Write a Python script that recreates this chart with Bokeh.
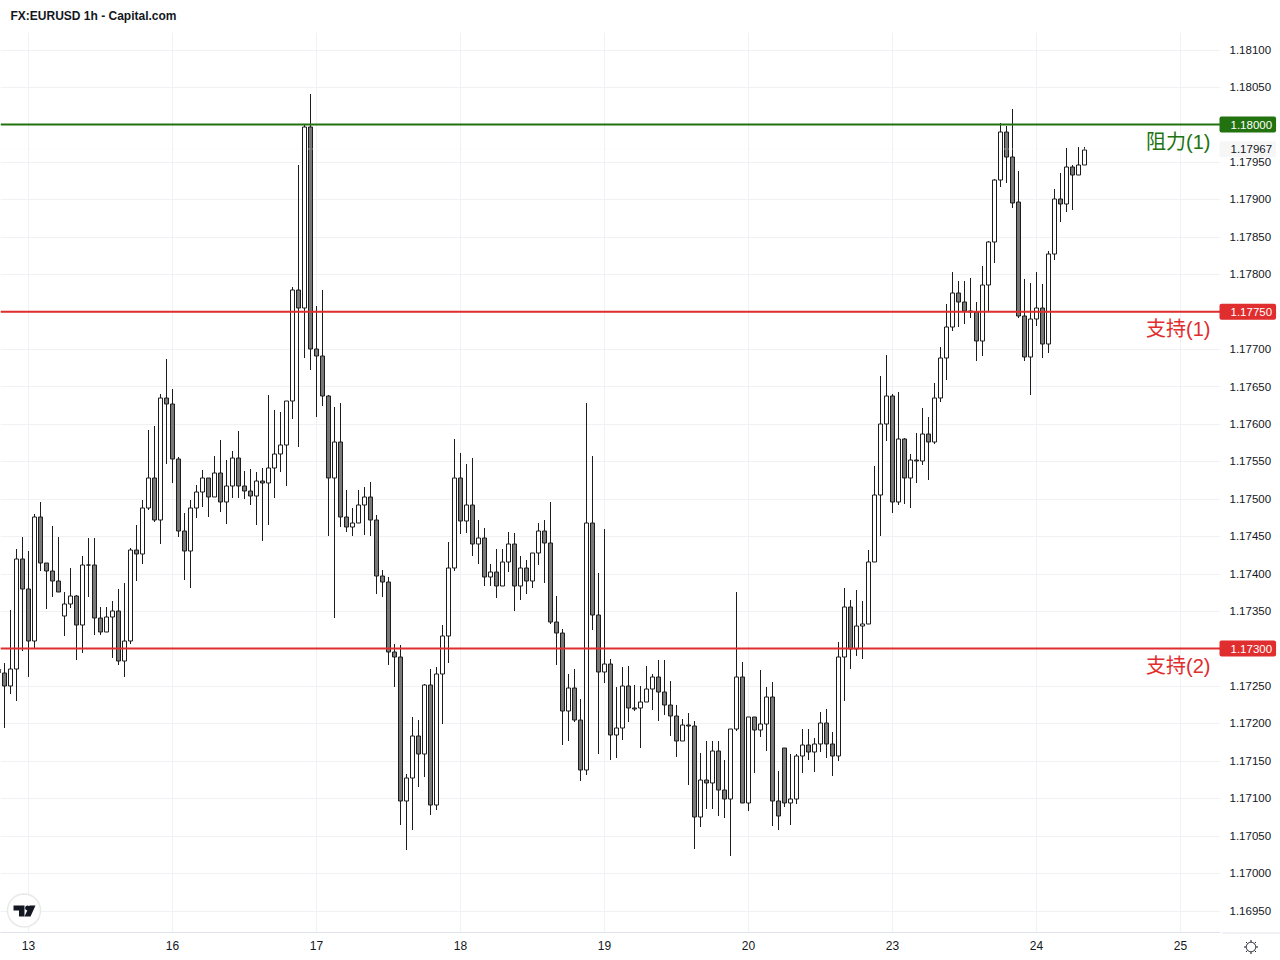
import numpy as np
from bokeh.plotting import figure
from bokeh.layouts import row, column
from bokeh.embed import file_html
from bokeh.resources import INLINE
from bokeh.models import Span, Label, PolyAnnotation, FixedTicker, Range1d, NumeralTickFormatter

TITLE = "FX:EURUSD 1h - Capital.com"

opens = [1.17273,1.17267,1.17250,1.17273,1.17420,1.17379,1.17310,1.17476,1.17414,1.17403,1.17390,1.17343,1.17359,1.17370,1.17331,1.17412,1.17412,1.17341,1.17322,1.17342,1.17350,1.17283,1.17310,1.17432,1.17426,1.17488,1.17528,1.17472,1.17635,1.17627,1.17553,1.17457,1.17430,1.17488,1.17509,1.17528,1.17502,1.17534,1.17496,1.17517,1.17554,1.17517,1.17510,1.17504,1.17524,1.17521,1.17541,1.17560,1.17572,1.17631,1.17779,1.17755,1.17997,1.17700,1.17691,1.17637,1.17528,1.17576,1.17476,1.17462,1.17468,1.17492,1.17502,1.17472,1.17397,1.17389,1.17295,1.17289,1.17096,1.17127,1.17183,1.17159,1.17251,1.17091,1.17266,1.17317,1.17408,1.17528,1.17470,1.17492,1.17440,1.17448,1.17395,1.17402,1.17383,1.17416,1.17440,1.17383,1.17408,1.17390,1.17428,1.17457,1.17441,1.17335,1.17321,1.17216,1.17247,1.17204,1.17138,1.17468,1.17345,1.17269,1.17279,1.17184,1.17194,1.17250,1.17220,1.17220,1.17228,1.17246,1.17262,1.17242,1.17224,1.17210,1.17176,1.17198,1.17196,1.17075,1.17124,1.17120,1.17163,1.17111,1.17099,1.17192,1.17262,1.17094,1.17208,1.17191,1.17199,1.17235,1.17096,1.17167,1.17094,1.17099,1.17156,1.17171,1.17162,1.17172,1.17200,1.17172,1.17156,1.17289,1.17355,1.17299,1.17330,1.17333,1.17416,1.17505,1.17600,1.17637,1.17496,1.17580,1.17528,1.17552,1.17550,1.17587,1.17576,1.17635,1.17688,1.17729,1.17775,1.17763,1.17751,1.17750,1.17711,1.17786,1.17843,1.17926,1.17990,1.17957,1.17896,1.17744,1.17689,1.17740,1.17755,1.17707,1.17827,1.17900,1.17894,1.17943,1.17933,1.17946]
highs = [1.17273,1.17281,1.17351,1.17433,1.17449,1.17430,1.17480,1.17496,1.17414,1.17464,1.17449,1.17375,1.17408,1.17371,1.17424,1.17448,1.17448,1.17355,1.17355,1.17363,1.17379,1.17387,1.17434,1.17465,1.17498,1.17592,1.17597,1.17640,1.17687,1.17647,1.17556,1.17481,1.17498,1.17518,1.17538,1.17528,1.17557,1.17578,1.17552,1.17564,1.17590,1.17537,1.17540,1.17536,1.17541,1.17639,1.17619,1.17616,1.17631,1.17783,1.17946,1.18001,1.18041,1.17758,1.17779,1.17639,1.17623,1.17628,1.17512,1.17488,1.17512,1.17516,1.17522,1.17478,1.17405,1.17395,1.17306,1.17305,1.17132,1.17208,1.17204,1.17253,1.17273,1.17275,1.17331,1.17442,1.17580,1.17561,1.17546,1.17554,1.17472,1.17461,1.17413,1.17433,1.17433,1.17456,1.17454,1.17424,1.17418,1.17428,1.17468,1.17472,1.17496,1.17370,1.17326,1.17266,1.17273,1.17232,1.17628,1.17557,1.17401,1.17460,1.17286,1.17249,1.17275,1.17277,1.17251,1.17250,1.17277,1.17266,1.17285,1.17285,1.17257,1.17224,1.17206,1.17214,1.17203,1.17160,1.17176,1.17176,1.17176,1.17151,1.17192,1.17375,1.17282,1.17208,1.17208,1.17271,1.17249,1.17255,1.17136,1.17167,1.17159,1.17159,1.17192,1.17192,1.17180,1.17215,1.17219,1.17188,1.17309,1.17381,1.17365,1.17378,1.17363,1.17432,1.17544,1.17664,1.17692,1.17640,1.17643,1.17581,1.17560,1.17588,1.17621,1.17609,1.17655,1.17703,1.17760,1.17803,1.17791,1.17791,1.17795,1.17763,1.17811,1.17844,1.17927,1.18002,1.17998,1.18021,1.17938,1.17794,1.17788,1.17803,1.17787,1.17831,1.17914,1.17935,1.17969,1.17946,1.17970,1.17970]
lows = [1.17267,1.17194,1.17239,1.17230,1.17297,1.17262,1.17301,1.17403,1.17353,1.17369,1.17375,1.17317,1.17354,1.17285,1.17294,1.17369,1.17318,1.17318,1.17322,1.17287,1.17278,1.17262,1.17306,1.17390,1.17413,1.17485,1.17469,1.17440,1.17546,1.17521,1.17449,1.17391,1.17381,1.17474,1.17489,1.17476,1.17502,1.17482,1.17466,1.17501,1.17501,1.17500,1.17492,1.17465,1.17444,1.17465,1.17501,1.17536,1.17517,1.17607,1.17569,1.17688,1.17672,1.17609,1.17624,1.17450,1.17341,1.17462,1.17456,1.17450,1.17468,1.17452,1.17450,1.17373,1.17369,1.17278,1.17249,1.17064,1.17031,1.17057,1.17115,1.17128,1.17078,1.17084,1.17199,1.17281,1.17403,1.17453,1.17454,1.17424,1.17413,1.17383,1.17383,1.17367,1.17383,1.17402,1.17350,1.17365,1.17373,1.17381,1.17412,1.17387,1.17333,1.17278,1.17171,1.17176,1.17202,1.17123,1.17131,1.17325,1.17159,1.17254,1.17151,1.17154,1.17178,1.17202,1.17216,1.17167,1.17228,1.17218,1.17203,1.17211,1.17183,1.17155,1.17176,1.17118,1.17032,1.17061,1.17086,1.17086,1.17076,1.17074,1.17023,1.17190,1.17094,1.17083,1.17134,1.17182,1.17163,1.17063,1.17057,1.17088,1.17064,1.17092,1.17134,1.17151,1.17135,1.17162,1.17154,1.17130,1.17150,1.17230,1.17273,1.17290,1.17286,1.17333,1.17416,1.17450,1.17577,1.17481,1.17492,1.17493,1.17488,1.17521,1.17545,1.17525,1.17573,1.17629,1.17659,1.17724,1.17729,1.17733,1.17741,1.17684,1.17691,1.17751,1.17815,1.17917,1.17922,1.17888,1.17741,1.17684,1.17639,1.17731,1.17688,1.17695,1.17819,1.17870,1.17883,1.17886,1.17933,1.17946]
closes = [1.17267,1.17250,1.17273,1.17420,1.17379,1.17310,1.17476,1.17414,1.17403,1.17390,1.17375,1.17359,1.17370,1.17331,1.17412,1.17411,1.17341,1.17322,1.17342,1.17350,1.17283,1.17310,1.17432,1.17426,1.17488,1.17528,1.17472,1.17635,1.17627,1.17553,1.17457,1.17430,1.17488,1.17509,1.17528,1.17502,1.17534,1.17496,1.17517,1.17554,1.17517,1.17510,1.17504,1.17524,1.17521,1.17541,1.17560,1.17572,1.17631,1.17779,1.17755,1.17997,1.17700,1.17691,1.17637,1.17528,1.17576,1.17476,1.17462,1.17468,1.17492,1.17502,1.17472,1.17397,1.17389,1.17295,1.17289,1.17096,1.17127,1.17183,1.17159,1.17251,1.17091,1.17266,1.17317,1.17408,1.17528,1.17470,1.17492,1.17440,1.17448,1.17395,1.17402,1.17383,1.17416,1.17440,1.17383,1.17408,1.17390,1.17428,1.17457,1.17441,1.17335,1.17321,1.17216,1.17247,1.17204,1.17138,1.17468,1.17345,1.17269,1.17279,1.17184,1.17194,1.17250,1.17220,1.17219,1.17228,1.17246,1.17262,1.17242,1.17224,1.17210,1.17176,1.17198,1.17196,1.17075,1.17124,1.17120,1.17163,1.17111,1.17099,1.17192,1.17262,1.17094,1.17208,1.17191,1.17199,1.17235,1.17096,1.17076,1.17094,1.17099,1.17156,1.17171,1.17162,1.17172,1.17200,1.17172,1.17156,1.17289,1.17355,1.17299,1.17330,1.17333,1.17416,1.17505,1.17600,1.17637,1.17496,1.17580,1.17528,1.17552,1.17550,1.17587,1.17576,1.17635,1.17688,1.17729,1.17775,1.17763,1.17751,1.17750,1.17711,1.17786,1.17843,1.17926,1.17990,1.17957,1.17895,1.17744,1.17689,1.17740,1.17755,1.17707,1.17827,1.17900,1.17894,1.17943,1.17933,1.17946,1.17966]

# x axis: bar number of each day's first candle and its label
day_bars = [5, 29, 53, 77, 101, 125, 149, 173, 197]
day_labels = ["13", "16", "17", "18", "19", "20", "23", "24", "25"]
price_ticks = [round(1.169 + 0.0005 * n, 5) for n in range(1, 25)]

resistance_1 = 1.18000
support_1 = 1.17750
support_2 = 1.17300
last_price = 1.17967

GREEN = "#22730f"
RED = "#e02d2d"
INK = "#131722"
GRID = "#f0f1f4"
EDGE = "#1c1c1c"
DOWN = "#787878"
FONT = "Liberation Sans"

PER_PX = (resistance_1 - support_2) / 524      # price per screen pixel
Y_TOP = resistance_1 + 92 * PER_PX             # price at the chart frame's top
Y_BOTTOM = resistance_1 - 808 * PER_PX         # price at the chart frame's bottom


def snap(v):
    """Move a price to the middle of its pixel row so 1px strokes stay crisp."""
    return Y_TOP - (np.floor((Y_TOP - np.asarray(v)) / PER_PX) + 0.5) * PER_PX


x = np.arange(len(opens))
o, h, l, c = map(np.array, (opens, highs, lows, closes))
up = c >= o
o_s, h_s, l_s, c_s = snap(o), snap(h), snap(l), snap(c)

p = figure(width=1280, height=960, output_backend="svg", toolbar_location=None,
           x_range=Range1d(0.25 + 1 / 12, 203.5833 + 1 / 12), y_range=Range1d(Y_BOTTOM, Y_TOP),
           min_border_left=0, min_border_right=60, min_border_top=32, min_border_bottom=28,
           x_axis_location="below", y_axis_location="right",
           outline_line_color=None, background_fill_color="white")

p.xaxis.ticker = FixedTicker(ticks=day_bars)
p.xaxis.major_label_overrides = dict(zip(day_bars, day_labels))
p.xaxis.major_tick_line_color = None
p.xaxis.minor_tick_line_color = None
p.xaxis.axis_line_color = "#e0e3eb"
p.xaxis.major_label_text_font = FONT
p.xaxis.major_label_text_font_size = "12px"
p.xaxis.major_label_text_color = INK
p.xaxis.major_label_standoff = 2

p.yaxis.ticker = FixedTicker(ticks=price_ticks)
p.yaxis.formatter = NumeralTickFormatter(format="0.00000")
p.yaxis.major_tick_line_color = None
p.yaxis.minor_tick_line_color = None
p.yaxis.axis_line_color = None
p.yaxis.major_label_text_font = FONT
p.yaxis.major_label_text_font_size = "11.5px"
p.yaxis.major_label_text_color = INK
p.yaxis.major_label_standoff = 3

p.xgrid.ticker = FixedTicker(ticks=day_bars)
p.ygrid.ticker = FixedTicker(ticks=[float(snap(t)) for t in price_ticks])
p.xgrid.grid_line_color = GRID
p.ygrid.grid_line_color = GRID

p.segment(x, h_s, x, l_s, line_color=EDGE, line_width=1)
p.vbar(x[up], top=c_s[up], bottom=o_s[up], width=4 / 6, fill_color="white", line_color=EDGE, line_width=1)
p.vbar(x[~up], top=o_s[~up], bottom=c_s[~up], width=4 / 6, fill_color=DOWN, line_color=EDGE, line_width=1)

p.add_layout(Span(location=float(snap(last_price)), dimension="width", line_color="#f2f2f2", line_width=1, line_dash="1 3"))
for level, color in ((resistance_1, GREEN), (support_1, RED), (support_2, RED)):
    p.add_layout(Span(location=level, dimension="width", line_color=color, line_width=2))

# Transparent full-page layer above the chart: price tags, title, icons
top = figure(width=1280, height=960, output_backend="svg", toolbar_location=None,
             x_range=Range1d(0, 1280), y_range=Range1d(resistance_1 - 836 * PER_PX, resistance_1 + 124 * PER_PX),
             x_axis_type=None, y_axis_type=None, min_border=0, outline_line_color=None,
             background_fill_alpha=0, border_fill_alpha=0)
top.grid.visible = False


def price_tag(level, bg, fg):
    top.add_layout(Label(x=1219, y=level, text=f"{level:.5f}",
                         text_font=FONT, text_font_size="11.5px", text_color=fg, text_baseline="middle",
                         background_fill_color=bg, border_radius=2, padding=(11, 4, 4, 4)))


price_tag(last_price, "#f6f6f7", INK)
price_tag(resistance_1, GREEN, "white")
price_tag(support_1, RED, "white")
price_tag(support_2, RED, "white")

for text, level, color in (("阻力(1)", resistance_1, GREEN), ("支持(1)", support_1, RED), ("支持(2)", support_2, RED)):
    top.add_layout(Label(x=1210, y=level, y_offset=-17, text=text,
                         text_font='"Liberation Sans", "Noto Sans CJK SC"', text_font_size="20px", text_color=color,
                         text_align="right", text_baseline="middle"))

top.add_layout(Label(x=10, y=15, x_units="canvas", y_units="canvas", text=TITLE, text_font=FONT,
                     text_font_size="12px", text_font_style="bold", text_color=INK, text_baseline="middle"))


def poly(xs, ys, fill=None, line=None, width=1):
    top.add_layout(PolyAnnotation(xs=list(xs), ys=list(ys), xs_units="canvas", ys_units="canvas",
                                  fill_color=fill, fill_alpha=1 if fill else 0,
                                  line_color=line, line_alpha=1 if line else 0, line_width=width,
                                  editable=False))


t = np.linspace(0, 2 * np.pi, 49)[:-1]
# continuation of the time-axis rule under the price scale
poly([1222, 1280, 1280, 1222], [932, 932, 933, 933], fill="#e0e3eb")
# TradingView badge
poly(23.5 + 16.5 * np.cos(t), 910 + 16.5 * np.sin(t), fill="white", line="#e9e9ec", width=1.5)
poly([13, 24, 24, 18.5, 18.5, 13], [905, 905, 916, 916, 910, 910], fill=INK)
poly(27 + 2.4 * np.cos(t), 907.5 + 2.4 * np.sin(t), fill=INK)
poly([29, 35, 30, 24], [905, 905, 916, 916], fill=INK)
# settings sun icon
poly(1250.5 + 4.7 * np.cos(t), 946.5 + 4.7 * np.sin(t), line=INK)
for a in np.arange(8) * np.pi / 4:
    poly([1250.5 + 5 * np.cos(a), 1250.5 + 7 * np.cos(a)], [946.5 + 5 * np.sin(a), 946.5 + 7 * np.sin(a)], line=INK)

overlay = column(top, margin=(0, 0, 0, -1280))
open("out.html", "w").write(file_html(row(p, overlay), INLINE))
